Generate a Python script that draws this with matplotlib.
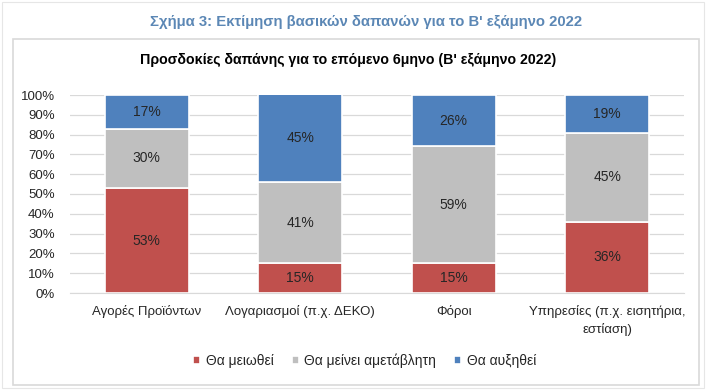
import numpy as np
import matplotlib
matplotlib.use("Agg")
import matplotlib.pyplot as plt
from matplotlib.patches import Rectangle

plt.rcParams["font.family"] = ["Liberation Sans", "DejaVu Sans"]

categories = ["Αγορές Προϊόντων", "Λογαριασμοί (π.χ. ΔΕΚΟ)", "Φόροι",
              "Υπηρεσίες (π.χ. εισητήρια,\nεστίαση)"]
series_names = ["Θα μειωθεί", "Θα μείνει αμετάβλητη", "Θα αυξηθεί"]
decrease = [53, 15, 15, 36]
unchanged = [30, 41, 59, 45]
increase = [17, 45, 26, 19]
colors = ["#c0504d", "#bfbfbf", "#4f81bd"]

fig = plt.figure(figsize=(7.06, 3.9), dpi=100)
fig.patch.set_facecolor("white")

# chart panel border + faint outer frame
fig.add_artist(Rectangle((13 / 706, 1 - 385 / 390), 686 / 706, 346 / 390,
                         transform=fig.transFigure, fill=False,
                         ec="#d9d9d9", lw=1.2))
fig.add_artist(Rectangle((2 / 706, 2 / 390), 702 / 706, 386 / 390,
                         transform=fig.transFigure, fill=False,
                         ec="#e6e6e6", lw=0.8))

fig.text(366 / 706, 1 - 22 / 390, "Σχήμα 3: Εκτίμηση βασικών δαπανών για το Β' εξάμηνο 2022",
         ha="center", va="center", fontsize=10.7, color="#5b87b5", fontweight="bold")
fig.text(348 / 706, 1 - 60 / 390, "Προσδοκίες δαπάνης για το επόμενο 6μηνο (Β' εξάμηνο 2022)",
         ha="center", va="center", fontsize=10.2, color="black", fontweight="bold")

ax = fig.add_axes([70 / 706, 1 - 293 / 390, 614 / 706, 198 / 390])
x = np.arange(len(categories))
bottom = np.zeros(len(categories))
for name, vals, col in zip(series_names, [decrease, unchanged, increase], colors):
    vals = np.array(vals, dtype=float)
    ax.bar(x, vals, 0.55, bottom=bottom, color=col, edgecolor="white",
           linewidth=1.2, label=name, zorder=2)
    for xi, b, v in zip(x, bottom, vals):
        ax.text(xi, b + v / 2, f"{int(v)}%", ha="center", va="center",
                fontsize=10, color="#262626", zorder=3)
    bottom += vals

ax.set_xlim(-0.5, len(categories) - 0.5)
ax.set_ylim(0, 100)
ax.set_yticks(np.arange(0, 101, 10))
ax.set_yticklabels([f"{t}%" for t in range(0, 101, 10)])
ax.set_xticks(x)
ax.set_xticklabels(categories, linespacing=1.45)
ax.yaxis.grid(True, color="#d9d9d9", lw=0.9, zorder=0)
ax.set_axisbelow(True)
for s in ["top", "right", "left"]:
    ax.spines[s].set_visible(False)
ax.spines["bottom"].set_color("#d9d9d9")
ax.tick_params(axis="both", length=0, labelsize=9.5, colors="#262626")
ax.tick_params(axis="y", pad=11)
ax.tick_params(axis="x", pad=9)

leg = ax.legend(loc="center", bbox_to_anchor=(0.48, -0.34), ncol=3, frameon=False,
                fontsize=10, handlelength=0.5, handleheight=0.5, handletextpad=0.4,
                columnspacing=1.3)
for t in leg.get_texts():
    t.set_color("#262626")

fig.savefig("out.png", dpi=100)
